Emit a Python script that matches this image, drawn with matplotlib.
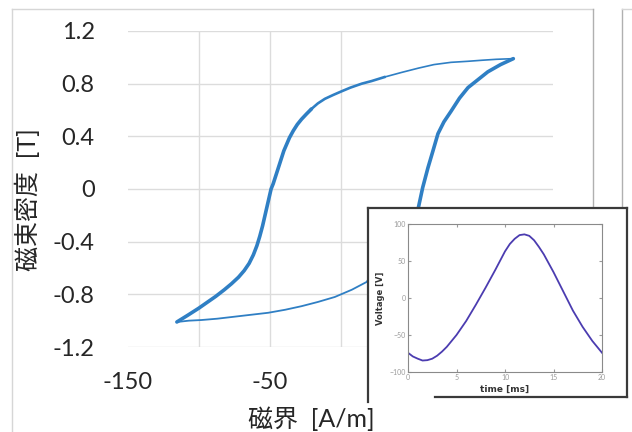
import matplotlib
matplotlib.use('Agg')
import matplotlib.pyplot as plt
from matplotlib.lines import Line2D
from matplotlib.patches import Rectangle

plt.rcParams['font.family'] = ['Lato', 'Noto Sans CJK JP', 'DejaVu Sans']
plt.rcParams['axes.unicode_minus'] = False

# Hysteresis loop: H [A/m], B [T]
# descending branch: from the top right tip down to the bottom left tip
h_down = [122, 110, 100, 90, 78, 66, 55, 43, 31, 22, 15, 7, 1, -5, -11, -16,
          -20.5, -24, -27.5, -30.5, -33.3, -36, -38, -40, -41.5, -43, -44.5, -46,
          -47.5, -49, -50.5, -52, -53.5, -55, -57, -59, -61.5, -64.5, -68, -72,
          -77, -82, -88, -94, -100, -108, -115.5]
b_down = [0.99, 0.985, 0.978, 0.97, 0.962, 0.945, 0.918, 0.885, 0.85, 0.82, 0.80,
          0.77, 0.743, 0.715, 0.685, 0.65, 0.608, 0.57, 0.53, 0.49, 0.443, 0.39,
          0.34, 0.29, 0.24, 0.19, 0.14, 0.09, 0.04, 0.0, -0.07, -0.14, -0.21,
          -0.28, -0.36, -0.43, -0.50, -0.565, -0.62, -0.67, -0.72, -0.765, -0.815,
          -0.86, -0.905, -0.96, -1.01]
mid_from = 8      # index where the descending line starts to thicken
thick_from = 16
# ascending branch: from the bottom left tip back up to the top right tip
h_up = [-115.5, -107, -98, -87, -75, -63, -51, -39, -27.5, -16, -4, 8, 19.5, 28,
        36, 43, 49, 52.5, 55, 58, 61.7, 65, 68.8, 73, 78, 84, 90, 97, 104, 113,
        122]
b_up = [-1.01, -1.0, -0.995, -0.985, -0.97, -0.955, -0.94, -0.917, -0.89, -0.858,
        -0.82, -0.765, -0.70, -0.63, -0.54, -0.44, -0.32, -0.22, -0.14, 0.01,
        0.16, 0.28, 0.42, 0.51, 0.59, 0.69, 0.77, 0.83, 0.89, 0.945, 0.99]
thick_up_from = 12

y_ticks = [-1.2, -0.8, -0.4, 0, 0.4, 0.8, 1.2]
y_ticklabels = ['-1.2', '-0.8', '-0.4', '0', '0.4', '0.8', '1.2']
x_ticks = [-150, -50, 50, 150]
x_grid = [-100, -50, 0]

# inset: voltage waveform
t_ms = [0, 0.5, 1, 1.5, 2, 2.5, 3, 3.5, 4, 5, 6, 7, 8, 9, 10, 10.5, 11, 11.5, 12,
        12.5, 13, 13.5, 14, 15, 16, 17, 18, 19, 19.5, 20]
volt = [-74, -79, -82, -84.5, -84, -82, -78, -72.5, -66, -50, -31, -9, 14, 38, 63,
        73, 80, 85, 86, 84, 78, 69, 59, 35, 9, -17, -39, -58, -66, -74]
t_ticks = [0, 5, 10, 15, 20]
v_ticks = [-100, -50, 0, 50, 100]
v_ticklabels = ['\u2212100', '\u221250', '0', '50', '100']

fig = plt.figure(figsize=(6.32, 4.32), dpi=100)
W, H = 632, 432

def fx(px):
    return px / W

def fy(py):
    return 1 - py / H

# outer chart borders (the scan shows the neighbouring panel too)
fig.add_artist(Line2D([fx(12), fx(12)], [fy(9), 0], color='#d6d6d6', lw=1))
fig.add_artist(Line2D([fx(12), fx(593)], [fy(9), fy(9)], color='#d6d6d6', lw=1))
fig.add_artist(Line2D([fx(593), fx(593)], [fy(9), fy(208)], color='#b0b0b0', lw=1))
fig.add_artist(Line2D([fx(622), fx(622)], [fy(9), fy(208)], color='#b0b0b0', lw=1))
fig.add_artist(Line2D([fx(622), 1], [fy(9), fy(9)], color='#d6d6d6', lw=1))

ax = fig.add_axes([fx(128), fy(347), fx(553 - 128), (347 - 31) / H])
for x in x_grid:
    ax.axvline(x, color='#dcdcdc', lw=1, zorder=0)
ax.set_yticks(y_ticks)
ax.set_yticklabels(y_ticklabels)
ax.set_xticks(x_ticks)
ax.grid(axis='y', color='#dcdcdc', lw=1)
ax.set_xlim(-150, 150)
ax.set_ylim(-1.2, 1.2)
for s in ax.spines.values():
    s.set_visible(False)
ax.tick_params(length=0, labelsize=17, colors='#262626')
ax.tick_params(axis='y', pad=24)
ax.tick_params(axis='x', pad=18)

blue = '#2f7fc4'
ax.plot(h_down[:mid_from + 1], b_down[:mid_from + 1], color=blue, lw=1.2)
ax.plot(h_down[mid_from:thick_from + 1], b_down[mid_from:thick_from + 1],
        color=blue, lw=1.9)
ax.plot(h_down[thick_from:], b_down[thick_from:], color=blue, lw=2.6,
        solid_capstyle='round', solid_joinstyle='round')
ax.plot(h_up[:thick_up_from + 1], b_up[:thick_up_from + 1], color=blue, lw=1.3)
ax.plot(h_up[thick_up_from:], b_up[thick_up_from:], color=blue, lw=2.6,
        solid_capstyle='round', solid_joinstyle='round')

fig.text(fx(27), fy(200), '磁束密度  [T]', rotation=90, ha='center', va='center',
         fontsize=18, color='#262626')
fig.text(fx(311), fy(419), '磁界  [A/m]', ha='center', va='center',
         fontsize=18, color='#262626')

# inset frame
fig.add_artist(Rectangle((fx(368), fy(397)), fx(627 - 368), (397 - 208) / H,
                         facecolor='white', edgecolor='none', zorder=2))
frame = '#3a3a3a'
fig.add_artist(Line2D([fx(368), fx(627)], [fy(208), fy(208)], color=frame, lw=1.6, zorder=2.5))
fig.add_artist(Line2D([fx(627), fx(627)], [fy(208), fy(397)], color=frame, lw=1.6, zorder=2.5))
fig.add_artist(Line2D([fx(368), fx(368)], [fy(208), fy(402)], color=frame, lw=1.6, zorder=2.5))
fig.add_artist(Line2D([fx(435), fx(627)], [fy(397), fy(397)], color=frame, lw=1.6, zorder=2.5))

axi = fig.add_axes([fx(408), fy(372), fx(602 - 408), (372 - 224) / H], zorder=3)
axi.plot(t_ms, volt, color='#4b3cb0', lw=1.3, solid_joinstyle='round')
axi.set_xlim(0, 20)
axi.set_ylim(-100, 100)
axi.set_xticks(t_ticks)
axi.set_yticks(v_ticks)
axi.set_yticklabels(v_ticklabels)
for s in axi.spines.values():
    s.set_color('#8a8a8a')
    s.set_linewidth(0.8)
axi.tick_params(labelsize=5, colors='#9a9a9a', length=2, direction='in', pad=1.5,
                top=True, right=True)
axi.set_xlabel('time [ms]', fontsize=6.5, color='#333333', labelpad=3,
               family=['DejaVu Sans'], fontweight='bold')
axi.set_ylabel('Voltage [V]', fontsize=6, color='#333333', labelpad=3,
               family=['DejaVu Sans'], fontweight='bold')

fig.savefig('out.png', dpi=100, facecolor='white')
